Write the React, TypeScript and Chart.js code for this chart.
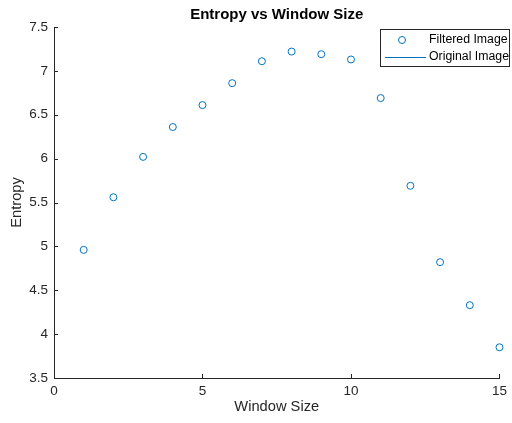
import React, { useEffect, useRef } from "react";
import { Chart, registerables } from "chart.js";
Chart.register(...registerables);

const windowSizes = [1, 2, 3, 4, 5, 6, 7, 8, 9, 10, 11, 12, 13, 14, 15];
const entropyValues = [4.96, 5.56, 6.02, 6.36, 6.61, 6.86, 7.11, 7.22, 7.19, 7.13, 6.69, 5.69, 4.82, 4.33, 3.85];
const xTickValues = [0, 5, 10, 15];
const yTickValues = [3.5, 4, 4.5, 5, 5.5, 6, 6.5, 7, 7.5];
const seriesNames = ["Filtered Image", "Original Image"];
const titleText = "Entropy vs Window Size";
const xAxisLabel = "Window Size";
const yAxisLabel = "Entropy";

const FONT = "'Liberation Sans', Arial, sans-serif";
const AXIS = "#262626";
const BLUE = "#0072BD";

const decorPlugin = {
  id: "decor",
  afterDraw(chart: any) {
    const ctx = chart.ctx;
    const area = chart.chartArea;
    const xs = chart.scales.x;
    const ys = chart.scales.y;
    ctx.save();
    // inward ticks
    ctx.strokeStyle = AXIS;
    ctx.lineWidth = 1;
    ctx.beginPath();
    xTickValues.forEach((v) => {
      const px = Math.round(xs.getPixelForValue(v)) + 0.5;
      ctx.moveTo(px, area.bottom);
      ctx.lineTo(px, area.bottom - 4);
    });
    yTickValues.forEach((v) => {
      const py = Math.round(ys.getPixelForValue(v)) + 0.5;
      ctx.moveTo(area.left, py);
      ctx.lineTo(area.left + 4, py);
    });
    ctx.stroke();

    // title
    ctx.fillStyle = "#000";
    ctx.font = `bold 15px ${FONT}`;
    ctx.textAlign = "center";
    ctx.textBaseline = "middle";
    ctx.fillText(titleText, (area.left + area.right) / 2, 15);

    // axis titles
    ctx.fillStyle = AXIS;
    ctx.font = `14.7px ${FONT}`;
    ctx.fillText(xAxisLabel, (area.left + area.right) / 2, 407);
    ctx.save();
    ctx.translate(17, (area.top + area.bottom) / 2);
    ctx.rotate(-Math.PI / 2);
    ctx.fillText(yAxisLabel, 0, 0);
    ctx.restore();

    // legend
    const lx = 380, ly = 29, lw = 129, lh = 37;
    ctx.fillStyle = "#fff";
    ctx.fillRect(lx, ly, lw, lh);
    ctx.strokeStyle = AXIS;
    ctx.lineWidth = 1;
    ctx.strokeRect(lx + 0.5, ly + 0.5, lw, lh);
    ctx.strokeStyle = BLUE;
    ctx.beginPath();
    ctx.arc(402, 40, 3.5, 0, Math.PI * 2);
    ctx.stroke();
    ctx.beginPath();
    ctx.moveTo(385, 57.5);
    ctx.lineTo(426, 57.5);
    ctx.stroke();
    ctx.fillStyle = "#000";
    ctx.font = `12.3px ${FONT}`;
    ctx.textAlign = "left";
    ctx.fillText(seriesNames[0], 429, 40);
    ctx.fillText(seriesNames[1], 429, 57);
    ctx.restore();
  },
};

export default function App() {
  const ref = useRef<HTMLCanvasElement | null>(null);
  useEffect(() => {
    if (!ref.current) return;
    const chart = new Chart(ref.current, {
      type: "scatter",
      data: {
        datasets: [
          {
            label: seriesNames[0],
            data: windowSizes.map((x, i) => ({ x, y: entropyValues[i] })),
            borderColor: BLUE,
            backgroundColor: "rgba(0,0,0,0)",
            pointRadius: 3.5,
            pointBorderWidth: 1,
            pointStyle: "circle",
            showLine: false,
            clip: false,
          } as any,
        ],
      },
      options: {
        animation: false,
        responsive: false,
        layout: { padding: { top: 27, right: 12, left: 0, bottom: 0 } },
        plugins: {
          legend: { display: false },
          title: { display: false },
          tooltip: { enabled: false },
        },
        scales: {
          x: {
            type: "linear",
            min: 0,
            max: 15,
            afterBuildTicks: (s: any) => {
              s.ticks = xTickValues.map((v) => ({ value: v }));
            },
            afterFit: (s: any) => {
              s.height = 45;
            },
            grid: { display: false, drawTicks: false },
            border: { display: true, color: AXIS, width: 1 },
            ticks: {
              padding: 5,
              color: AXIS,
              font: { family: FONT, size: 13.5 },
              maxRotation: 0,
              callback: (v: any) => String(v),
            },
          },
          y: {
            type: "linear",
            min: 3.5,
            max: 7.5,
            afterBuildTicks: (s: any) => {
              s.ticks = yTickValues.map((v) => ({ value: v }));
            },
            afterFit: (s: any) => {
              s.width = 54;
            },
            grid: { display: false, drawTicks: false },
            border: { display: true, color: AXIS, width: 1 },
            ticks: {
              padding: 6,
              color: AXIS,
              font: { family: FONT, size: 13.5 },
              callback: (v: any) => String(v),
            },
          },
        },
      },
      plugins: [decorPlugin],
    } as any);
    return () => chart.destroy();
  }, []);
  return (
    <div style={{ position: "fixed", left: 0, top: 0, width: 512, height: 423, background: "#fff" }}>
      <canvas ref={ref} width={512} height={423} style={{ width: 512, height: 423 }} />
    </div>
  );
}
